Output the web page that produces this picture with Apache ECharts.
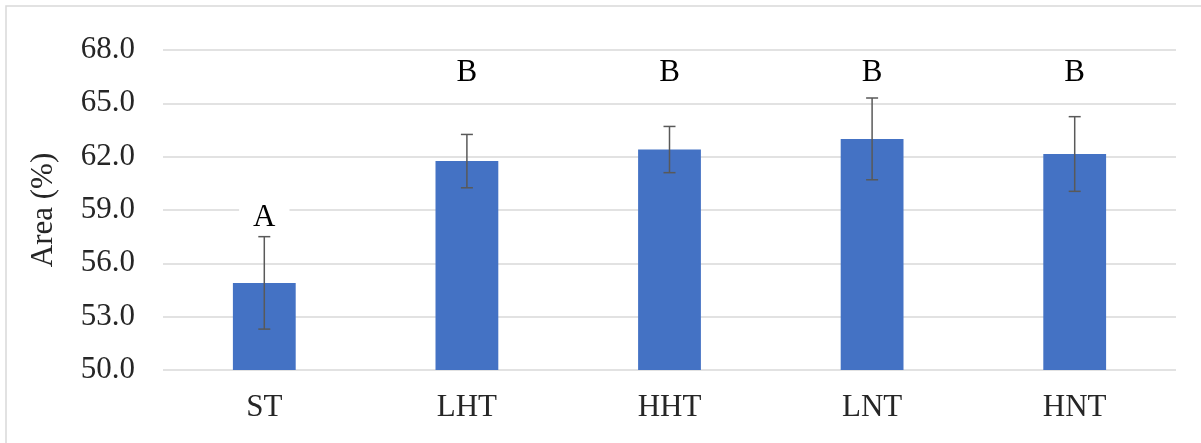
<!DOCTYPE html>
<html><head><meta charset="utf-8">
<script src="https://cdn.jsdelivr.net/npm/echarts@6/dist/echarts.min.js"></script>
<style>html,body{margin:0;padding:0;background:#fff}#c{width:1201px;height:443px}</style>
</head><body><div id="c"></div>
<script>
const categories = ['ST','LHT','HHT','LNT','HNT'];
const means = [54.9, 61.75, 62.4, 63.0, 62.15];
const errs = [2.6, 1.5, 1.3, 2.3, 2.1];
const letters = ['A','B','B','B','B'];
const letterY = [58.55, 66.7, 66.7, 66.7, 66.7];
const yTicks = [50, 53, 56, 59, 62, 65, 68];

const font = '"Liberation Serif", "Times New Roman", serif';
const chart = echarts.init(document.getElementById('c'), null, {renderer:'canvas'});
chart.setOption({
  animation:false,
  backgroundColor:'#fff',
  graphic:[{type:'polyline', shape:{points:[[6,443],[6,6],[1201,6]]}, style:{stroke:'#d9d9d9', lineWidth:1.5, fill:null}}],
  grid:{left:163, right:25, top:50, bottom:73},
  xAxis:{type:'category', data:categories,
    axisLine:{show:false}, axisTick:{show:false},
    axisLabel:{fontFamily:font, fontSize:31, color:'#262626', margin:22}},
  yAxis:{type:'value', min:yTicks[0], max:yTicks[yTicks.length-1], interval:yTicks[1]-yTicks[0],
    name:'Area (%)', nameLocation:'middle', nameGap:104, nameRotate:90,
    nameTextStyle:{fontFamily:font, fontSize:31, color:'#262626'},
    axisLine:{show:false}, axisTick:{show:false},
    splitLine:{lineStyle:{color:'#d9d9d9', width:1.5}},
    axisLabel:{fontFamily:font, fontSize:31, color:'#262626', margin:28,
      formatter:v=>v.toFixed(1)}},
  series:[
    {type:'bar', data:means, barWidth:'31%', itemStyle:{color:'#4472C4'}, z:2},
    {type:'custom', z:3, data:categories.map((c,i)=>[i, means[i]-errs[i], means[i]+errs[i]]),
      renderItem:(params, api)=>{
        const lo = api.coord([api.value(0), api.value(1)]);
        const hi = api.coord([api.value(0), api.value(2)]);
        const w = 6;
        const st = {stroke:'#595959', lineWidth:1.5};
        return {type:'group', children:[
          {type:'line', shape:{x1:lo[0], y1:lo[1], x2:hi[0], y2:hi[1]}, style:st},
          {type:'line', shape:{x1:lo[0]-w, y1:lo[1], x2:lo[0]+w, y2:lo[1]}, style:st},
          {type:'line', shape:{x1:hi[0]-w, y1:hi[1], x2:hi[0]+w, y2:hi[1]}, style:st}
        ]};
      }},
    {type:'custom', z:4, data:categories.map((c,i)=>[i, letterY[i]]),
      renderItem:(params, api)=>{
        const p = api.coord([api.value(0), api.value(1)]);
        return {type:'text', style:{text:letters[params.dataIndex], x:p[0], y:p[1],
          fill:'#000', font:'31px "Liberation Serif", serif', align:'center', verticalAlign:'middle',
          backgroundColor:'#fff', padding:[0,14]}};
      }}
  ]
});
</script></body></html>
